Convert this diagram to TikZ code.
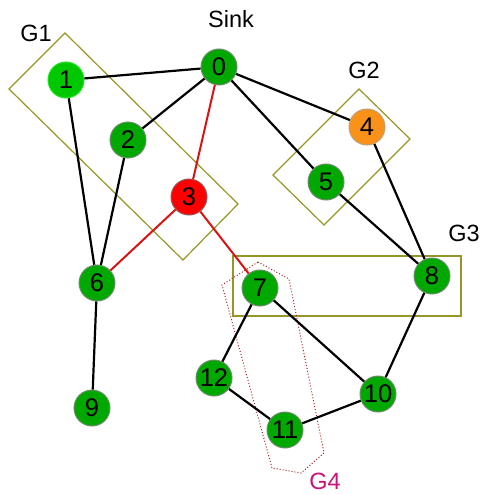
\documentclass[tikz,border=0pt]{standalone}
\usepackage{fontspec}
\setmainfont{Liberation Sans}
\definecolor{ngreen}{RGB}{0,168,0}
\definecolor{nbright}{RGB}{0,200,0}
\definecolor{nbrightb}{RGB}{30,230,30}
\definecolor{nred}{RGB}{255,0,0}
\definecolor{norange}{RGB}{250,145,25}
\definecolor{nborder}{RGB}{110,140,110}
\definecolor{olivebox}{RGB}{150,150,40}
\definecolor{redge}{RGB}{215,20,20}
\definecolor{gfour}{RGB}{160,40,40}
\definecolor{gfourlab}{RGB}{200,20,120}
\begin{document}
\begin{tikzpicture}[x=1pt,y=-1pt,
  vtx/.style={circle,minimum size=36pt,inner sep=0pt,fill=ngreen,draw=nborder,line width=1pt,font=\fontsize{25.5}{30}\selectfont},
  edge/.style={line width=2.2pt,black},
  redg/.style={line width=2pt,redge},
  grp/.style={olivebox,line width=1.2pt},
  lab/.style={font=\fontsize{23.5}{28}\selectfont,inner sep=0pt}]
\useasboundingbox (0,0) rectangle (481,495);
% group outlines
\draw[grp] (65,33) -- (9,89) -- (183,260) -- (238,204) -- cycle;
\draw[grp] (359,89) -- (410,139) -- (324,225) -- (273,175) -- cycle;
\draw[grp] (233,256) rectangle (461,316);
\draw[gfour,line width=1pt,dotted] (258,262) -- (289,279) -- (324,453) -- (301,473) -- (272,468) -- (222,285) -- cycle;
% nodes
\node[vtx] (n0) at (219,67) {0};
\node[vtx,fill=nbright,draw=nbrightb] (n1) at (66,80) {1};
\node[vtx] (n2) at (128,140) {2};
\node[vtx,fill=nred,draw={rgb,255:red,150;green,90;blue,90}] (n3) at (189,197) {3};
\node[vtx,fill=norange,draw={rgb,255:red,190;green,160;blue,120}] (n4) at (367,127) {4};
\node[vtx] (n5) at (326,182) {5};
\node[vtx] (n6) at (97,283) {6};
\node[vtx] (n7) at (260,288) {7};
\node[vtx] (n8) at (432,276) {8};
\node[vtx] (n9) at (92,408) {9};
\node[vtx] (n10) at (378,394) {10};
\node[vtx] (n11) at (285,430) {11};
\node[vtx] (n12) at (214,378) {12};
% edges
\draw[edge] (n0) -- (n1);
\draw[edge] (n0) -- (n2);
\draw[edge] (n0) -- (n4);
\draw[edge] (n0) -- (n5);
\draw[edge] (n1) -- (n6);
\draw[edge] (n2) -- (n6);
\draw[edge] (n4) -- (n8);
\draw[edge] (n5) -- (n8);
\draw[edge] (n6) -- (n9);
\draw[edge] (n7) -- (n12);
\draw[edge] (n7) -- (n10);
\draw[edge] (n8) -- (n10);
\draw[edge] (n10) -- (n11);
\draw[edge] (n11) -- (n12);
\draw[redg] (n0) -- (n3);
\draw[redg] (n3) -- (n6);
\draw[redg] (n3) -- (n7);
% labels
\node[lab] (sink) at (231,19) {Sink};
\node[lab] (g1) at (36,33) {G1};
\node[lab] (g2) at (364,70) {G2};
\node[lab] (g3) at (464,233) {G3};
\node[lab,text=gfourlab] (g4) at (325,481) {G4};
\end{tikzpicture}
\end{document}
